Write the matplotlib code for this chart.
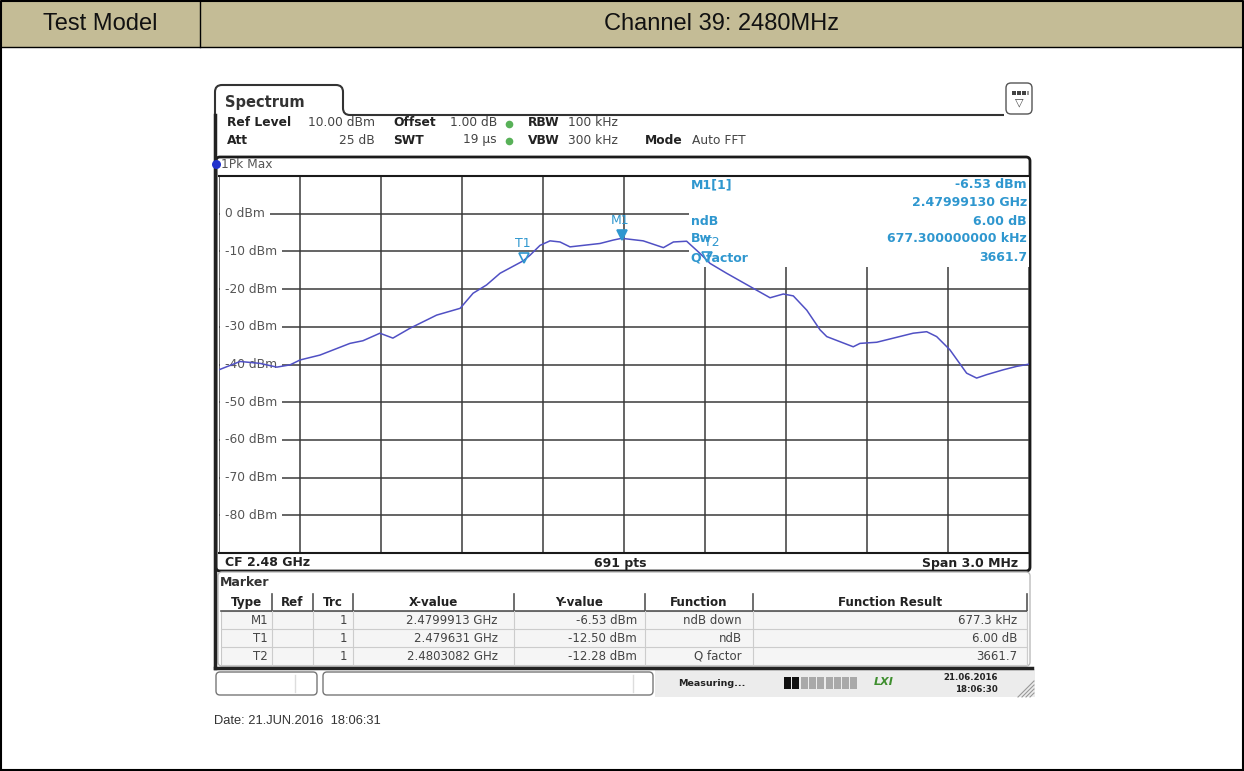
import numpy as np
import matplotlib.pyplot as plt
from matplotlib.patches import Rectangle, FancyBboxPatch, PathPatch
from matplotlib.path import Path

# trace (CF 2.48 GHz, span 3 MHz)
freq_ghz = [2.478500, 2.478578, 2.478652, 2.478714, 2.478763, 2.478800, 2.478874,
            2.478985, 2.479033, 2.479096, 2.479144, 2.479207, 2.479306, 2.479393,
            2.479404, 2.479441, 2.479491, 2.479541, 2.479627, 2.479652, 2.479689,
            2.479726, 2.479763, 2.479800, 2.479849, 2.479911, 2.479960, 2.479991,
            2.480071, 2.480146, 2.480183, 2.480232, 2.480281, 2.480319, 2.480380,
            2.480479, 2.480541, 2.480590, 2.480627, 2.480677, 2.480726, 2.480751,
            2.480849, 2.480874, 2.480936, 2.481071, 2.481121, 2.481158, 2.481207,
            2.481269, 2.481306, 2.481343, 2.481405, 2.481454, 2.481500]
level_dbm = [-41.4, -39.2, -39.7, -40.7, -40.1, -38.8, -37.5,
             -34.4, -33.7, -31.7, -33.0, -30.4, -26.9, -25.1,
             -24.2, -21.1, -18.9, -15.8, -12.5, -11.0, -8.4,
             -7.2, -7.5, -8.8, -8.4, -7.9, -7.0, -6.53,
             -7.2, -9.0, -7.5, -7.3, -10.5, -13.2, -15.8,
             -19.8, -22.3, -21.3, -21.8, -25.6, -30.8, -32.6,
             -35.3, -34.4, -34.1, -31.7, -31.3, -32.6, -36.1,
             -42.3, -43.6, -42.7, -41.4, -40.5, -39.9]

marker_names = ['M1', 'T1', 'T2']
marker_freq = [2.4799913, 2.479631, 2.4803082]
marker_level = [-6.53, -12.50, -12.28]

ytick_dbm = [0, -10, -20, -30, -40, -50, -60, -70, -80]

info_left = ['M1[1]', '', 'ndB', 'Bw', 'Q factor']
info_right = ['-6.53 dBm', '2.47999130 GHz', '6.00 dB', '677.300000000 kHz', '3661.7']

table_head = ['Type', 'Ref', 'Trc', 'X-value', 'Y-value', 'Function', 'Function Result']
table_rows = [['M1', '', '1', '2.4799913 GHz', '-6.53 dBm', 'ndB down', '677.3 kHz'],
              ['T1', '', '1', '2.479631 GHz', '-12.50 dBm', 'ndB', '6.00 dB'],
              ['T2', '', '1', '2.4803082 GHz', '-12.28 dBm', 'Q factor', '3661.7']]

W, H = 1244, 771
SCR = 'DejaVu Sans'
DOC = 'Liberation Sans'
GRID = '#3a3a3a'
MKR = '#2f97cf'
TRACE = '#5050c4'

fig = plt.figure(figsize=(W / 100, H / 100), dpi=100)
fig.patch.set_facecolor('white')

# pixel canvas, y going down
bg = fig.add_axes([0, 0, 1, 1])
bg.set_xlim(0, W)
bg.set_ylim(H, 0)
bg.axis('off')


def txt(x, y, s, size=8.8, on=None, **kw):
    kw.setdefault('family', SCR)
    kw.setdefault('va', 'center')
    kw.setdefault('color', '#222222')
    target = on if on is not None else bg
    return target.text(x, y, s, fontsize=size, transform=bg.transData, **kw)


# document table header
bg.add_patch(Rectangle((0, 0), W, 47, fc='#c4bc96', ec='none'))
bg.plot([0.5, 0.5, W - 1, W - 1], [H - 1, 1, 1, H - 1], color='black', lw=1.5)
bg.plot([0, W], [47, 47], color='black', lw=1)
bg.plot([200, 200], [0, 47], color='black', lw=1)
bg.plot([0, W], [H - 1, H - 1], color='black', lw=1.5)
txt(100, 24, 'Test Model', size=17, family=DOC, ha='center', color='#111111')
txt(722, 24, 'Channel 39: 2480MHz', size=17, family=DOC, ha='center', color='#111111')

# spectrum window outline with tab
P = Path
verts = [(215, 668), (215, 92), (215, 85), (222, 85), (336, 85), (343, 85), (343, 92),
         (343, 108), (343, 115), (350, 115), (1004, 115)]
codes = [P.MOVETO, P.LINETO, P.CURVE3, P.CURVE3, P.LINETO, P.CURVE3, P.CURVE3,
         P.LINETO, P.CURVE3, P.CURVE3, P.LINETO]
bg.add_patch(PathPatch(Path(verts, codes), fc='none', ec='#333333', lw=1.5))
bg.plot([215, 1032], [668, 668], color='#222222', lw=2.5)
bg.plot([215, 215], [115, 668], color='#222222', lw=2.5)
txt(225, 102, 'Spectrum', size=10.5, weight='bold', color='#333333')

# top-right icon
bg.add_patch(FancyBboxPatch((1006, 83), 26, 31, boxstyle='round,pad=0,rounding_size=5',
                            fc='white', ec='#555555', lw=1))
for k in range(3):
    bg.add_patch(Rectangle((1012 + k * 5, 91), 4, 4, fc='#444444', ec='none'))
bg.add_patch(Rectangle((1027, 91), 2, 4, fc='#999999', ec='none'))
txt(1019.5, 102, '\u25bd', size=8, ha='center', color='#444444')

# settings lines
txt(227, 123, 'Ref Level', weight='bold')
txt(375, 123, '10.00 dBm', ha='right', color='#444444')
txt(393, 123, 'Offset', weight='bold')
txt(497, 123, '1.00 dB', ha='right', color='#444444')
txt(528, 123, 'RBW', weight='bold')
txt(568, 123, '100 kHz', color='#444444')
txt(227, 140, 'Att', weight='bold')
txt(375, 140, '25 dB', ha='right', color='#444444')
txt(393, 140, 'SWT', weight='bold')
txt(497, 140, '19 \u00b5s', ha='right', color='#444444')
txt(528, 140, 'VBW', weight='bold')
txt(568, 140, '300 kHz', color='#444444')
txt(645, 141, 'Mode', weight='bold')
txt(692, 141, 'Auto FFT', color='#444444')
for yy in (123, 140):
    bg.plot([509], [yy + 0.5], 'o', ms=5.5, color='#58b158', mec='none')

# trace window
bg.add_patch(FancyBboxPatch((216, 157), 814, 414, boxstyle='round,pad=0,rounding_size=4',
                            fc='white', ec='#1a1a1a', lw=2))
bg.plot([216], [164], 'o', ms=6.5, color='#2233cc', mec='none')
txt(221, 164.5, '1Pk Max', color='#555555')
txt(225, 563, 'CF 2.48 GHz', size=9, weight='bold')
txt(620, 563, '691 pts', size=9, weight='bold', ha='center')
txt(1018, 563, 'Span 3.0 MHz', size=9, weight='bold', ha='right')

# plot area
x0, x1, y0, y1 = 219, 1029, 176, 553
ax = fig.add_axes([x0 / W, 1 - y1 / H, (x1 - x0) / W, (y1 - y0) / H])
f_lo, f_hi = 2.4785, 2.4815
ax.set_xlim(f_lo, f_hi)
ax.set_ylim(-90, 10)
ax.set_xticks(np.linspace(f_lo, f_hi, 11))
ax.set_yticks(range(-90, 11, 10))
ax.tick_params(length=0, labelbottom=False, labelleft=False)
ax.set_axisbelow(True)
ax.grid(color=GRID, lw=1.1)
for side in ['left', 'right']:
    ax.spines[side].set_visible(False)
ax.spines['top'].set_color('#1a1a1a')
ax.spines['top'].set_linewidth(1.5)
ax.spines['bottom'].set_color('#1a1a1a')
ax.spines['bottom'].set_linewidth(1.5)

# marker info block hides the grid underneath
ax.add_patch(Rectangle((0.58, 0.7586), 0.43, 0.25, transform=ax.transAxes,
                       fc='white', ec='none', zorder=1))

for v in ytick_dbm:
    ax.text(225, v, f'{v} dBm', transform=ax.get_yaxis_transform().__class__(
            bg.transData, ax.transData), fontsize=8.8,
            family=SCR, color='#555555', va='center', ha='left', zorder=2,
            bbox=dict(fc='white', ec='none', pad=3.5))

ax.plot(freq_ghz, level_dbm, color=TRACE, lw=1.1, zorder=3)

for name, f, lv in zip(marker_names, marker_freq, marker_level):
    filled = name.startswith('M')
    ax.plot([f], [lv + 0.8], marker='v', ms=7, color=MKR, mfc=MKR if filled else 'none',
            mew=1.2, zorder=5)
    dx = 0.000016 if name == 'T2' else -0.000006
    ax.text(f + dx, lv + 4.6, name, fontsize=9, family=SCR, color=MKR,
            ha='center', va='center', zorder=5)

info_y = [185, 203, 221.7, 239, 257.7]
for s_l, s_r, yy in zip(info_left, info_right, info_y):
    txt(691, yy, s_l, size=9, on=ax, weight='bold', color=MKR, zorder=4)
    txt(1027, yy, s_r, size=9, on=ax, weight='bold', color=MKR, ha='right', zorder=4)

# marker table
bg.add_patch(FancyBboxPatch((218, 572), 812, 94, boxstyle='round,pad=0,rounding_size=4',
                            fc='white', ec='#bbbbbb', lw=1))
txt(220, 583, 'Marker', size=9, weight='bold', color='#333333')
col_edges = [221, 272, 313, 353, 514, 645, 753, 1027]
row_lines = [594, 611, 629, 647, 665]
bg.add_patch(Rectangle((col_edges[0], row_lines[1]), col_edges[-1] - col_edges[0],
                       row_lines[-1] - row_lines[1], fc='#f5f5f5', ec='#c8c8c8', lw=0.8))
bg.plot([col_edges[0], col_edges[-1]], [row_lines[1], row_lines[1]], color='#555555', lw=1.2)
for yy in row_lines[2:-1]:
    bg.plot([col_edges[0], col_edges[-1]], [yy, yy], color='#cccccc', lw=0.8)
for xx in col_edges[1:]:
    bg.plot([xx, xx], [row_lines[0], row_lines[1]], color='#555555', lw=1.2)
    bg.plot([xx, xx], [row_lines[1], row_lines[-1]], color='#cccccc', lw=0.8)
for i, head in enumerate(table_head):
    txt((col_edges[i] + col_edges[i + 1]) / 2, 602.5, head, size=8.6, weight='bold',
        ha='center')
cell_pad = [4, 8, 6, 16, 8, 11, 10]
for r, row in enumerate(table_rows):
    yy = (row_lines[r + 1] + row_lines[r + 2]) / 2
    for i, cell in enumerate(row):
        txt(col_edges[i + 1] - cell_pad[i], yy, cell, size=8.5, ha='right', color='#444444')

# status bar
bg.add_patch(Rectangle((655, 669), 380, 28, fc='#ececec', ec='none'))
bg.add_patch(FancyBboxPatch((216, 672), 101, 23, boxstyle='round,pad=0,rounding_size=4',
                            fc='white', ec='#777777', lw=1))
bg.add_patch(FancyBboxPatch((323, 672), 330, 23, boxstyle='round,pad=0,rounding_size=4',
                            fc='white', ec='#777777', lw=1))
bg.plot([295, 295], [675, 692], color='#dddddd', lw=1)
bg.plot([633, 633], [675, 692], color='#dddddd', lw=1)
txt(678, 683, 'Measuring...', size=6.8, weight='bold')
for k in range(9):
    bg.add_patch(Rectangle((784 + k * 8.3, 677), 7, 12,
                           fc='#111111' if k < 2 else '#a9a9a9', ec='none'))
txt(874, 682, 'LXI', size=8, weight='bold', style='italic', color='#3f8f2f')
txt(998, 678, '21.06.2016', size=6.2, weight='bold', ha='right')
txt(998, 689, '18:06:30', size=6.2, weight='bold', ha='right')
for k in range(4):
    bg.plot([1018 + k * 4, 1034], [697, 681 + k * 4], color='#999999', lw=0.8)

txt(214, 721, 'Date: 21.JUN.2016  18:06:31', size=9.3, family=DOC, color='#333333')

fig.savefig('out.png', dpi=100)
